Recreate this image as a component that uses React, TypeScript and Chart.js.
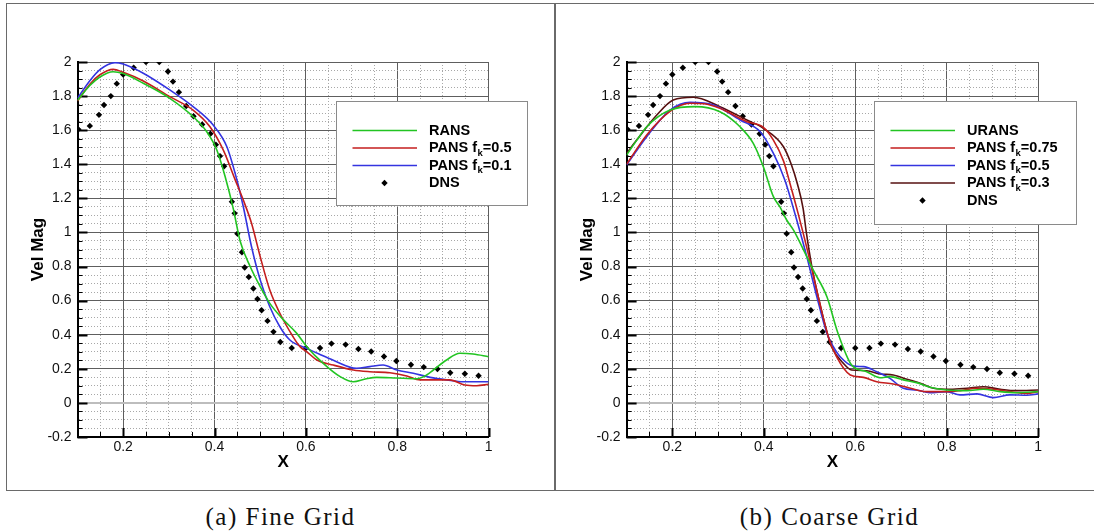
import React, { useEffect, useRef } from "react";
import { Chart, registerables } from "chart.js";

Chart.register(...registerables);

const SANS = '"Liberation Sans", Arial, Helvetica, sans-serif';
const GREEN = "#22c422";
const RED = "#c41e1e";
const BLUE = "#3434e0";
const BROWN = "#561010";

// ---------- DNS reference (same in both panels) ----------
const dnsX = [0.102, 0.127, 0.147, 0.158, 0.173, 0.186, 0.2, 0.223, 0.25, 0.279, 0.298, 0.309, 0.322, 0.338, 0.354, 0.373, 0.391, 0.403, 0.412, 0.421, 0.438, 0.444, 0.45, 0.46, 0.466, 0.475, 0.485, 0.494, 0.503, 0.516, 0.529, 0.544, 0.569, 0.6, 0.631, 0.656, 0.687, 0.715, 0.743, 0.771, 0.798, 0.83, 0.858, 0.888, 0.916, 0.948, 0.978];
const dnsY = [1.605, 1.625, 1.69, 1.748, 1.8, 1.873, 1.927, 1.966, 2.0, 2.0, 1.944, 1.885, 1.823, 1.742, 1.682, 1.633, 1.579, 1.515, 1.448, 1.388, 1.18, 1.112, 0.993, 0.884, 0.794, 0.739, 0.671, 0.61, 0.544, 0.481, 0.417, 0.357, 0.322, 0.322, 0.322, 0.348, 0.342, 0.316, 0.302, 0.272, 0.246, 0.224, 0.21, 0.199, 0.177, 0.171, 0.159];

// ---------- (a) Fine grid ----------
const fineRansX = [0.1, 0.127, 0.149, 0.178, 0.2, 0.244, 0.302, 0.353, 0.383, 0.405, 0.423, 0.441, 0.456, 0.478, 0.5, 0.521, 0.55, 0.58, 0.602, 0.638, 0.675, 0.704, 0.73, 0.755, 0.799, 0.843, 0.865, 0.879, 0.908, 0.937, 0.966, 1.0];
const fineRansY = [1.775, 1.862, 1.912, 1.943, 1.932, 1.875, 1.787, 1.68, 1.591, 1.484, 1.33, 1.14, 0.95, 0.8, 0.682, 0.584, 0.49, 0.408, 0.33, 0.232, 0.154, 0.124, 0.14, 0.15, 0.146, 0.142, 0.165, 0.193, 0.252, 0.291, 0.287, 0.271];

const finePans05X = [0.1, 0.127, 0.149, 0.178, 0.2, 0.244, 0.302, 0.353, 0.39, 0.419, 0.445, 0.463, 0.481, 0.5, 0.521, 0.543, 0.572, 0.587, 0.602, 0.624, 0.66, 0.704, 0.74, 0.784, 0.821, 0.85, 0.886, 0.915, 0.948, 0.974, 1.0];
const finePans05Y = [1.771, 1.87, 1.925, 1.957, 1.94, 1.889, 1.797, 1.718, 1.62, 1.484, 1.31, 1.19, 1.054, 0.858, 0.662, 0.526, 0.388, 0.33, 0.3, 0.252, 0.222, 0.193, 0.183, 0.177, 0.158, 0.135, 0.135, 0.135, 0.105, 0.101, 0.109];

const finePans01X = [0.1, 0.127, 0.149, 0.182, 0.2, 0.244, 0.302, 0.353, 0.397, 0.427, 0.449, 0.463, 0.481, 0.5, 0.521, 0.543, 0.565, 0.602, 0.63, 0.66, 0.711, 0.74, 0.769, 0.799, 0.835, 0.872, 0.908, 0.945, 1.0];
const finePans01Y = [1.787, 1.89, 1.955, 1.996, 1.988, 1.934, 1.836, 1.738, 1.63, 1.503, 1.308, 1.151, 0.916, 0.721, 0.564, 0.447, 0.369, 0.32, 0.285, 0.25, 0.203, 0.213, 0.222, 0.193, 0.174, 0.15, 0.135, 0.124, 0.124];

// ---------- (b) Coarse grid ----------
const coarseUransX = [0.1, 0.122, 0.144, 0.195, 0.25, 0.304, 0.348, 0.377, 0.399, 0.421, 0.435, 0.45, 0.465, 0.494, 0.508, 0.538, 0.562, 0.592, 0.625, 0.654, 0.676, 0.705, 0.734, 0.763, 0.8, 0.844, 0.88, 0.917, 0.953, 1.0];
const coarseUransY = [1.454, 1.54, 1.62, 1.718, 1.738, 1.708, 1.62, 1.523, 1.386, 1.21, 1.151, 1.073, 1.014, 0.858, 0.78, 0.623, 0.41, 0.222, 0.183, 0.148, 0.154, 0.135, 0.119, 0.092, 0.076, 0.072, 0.08, 0.066, 0.06, 0.066];

const coarsePans075X = [0.1, 0.144, 0.195, 0.239, 0.27, 0.304, 0.363, 0.399, 0.421, 0.443, 0.458, 0.475, 0.497, 0.519, 0.541, 0.559, 0.589, 0.618, 0.647, 0.683, 0.713, 0.756, 0.8, 0.829, 0.866, 0.902, 0.938, 0.975, 1.0];
const coarsePans075Y = [1.4, 1.572, 1.71, 1.758, 1.755, 1.728, 1.65, 1.617, 1.542, 1.42, 1.28, 1.112, 0.878, 0.623, 0.388, 0.271, 0.164, 0.15, 0.124, 0.111, 0.092, 0.066, 0.066, 0.072, 0.086, 0.08, 0.066, 0.056, 0.066];

const coarsePans05X = [0.1, 0.144, 0.195, 0.239, 0.29, 0.348, 0.392, 0.421, 0.446, 0.472, 0.494, 0.516, 0.538, 0.552, 0.567, 0.596, 0.618, 0.647, 0.676, 0.705, 0.734, 0.763, 0.8, 0.829, 0.866, 0.902, 0.938, 0.975, 1.0];
const coarsePans05Y = [1.396, 1.562, 1.718, 1.763, 1.748, 1.66, 1.591, 1.464, 1.308, 1.073, 0.858, 0.623, 0.408, 0.33, 0.271, 0.216, 0.213, 0.183, 0.144, 0.086, 0.076, 0.06, 0.066, 0.047, 0.053, 0.031, 0.047, 0.045, 0.053];

const coarsePans03X = [0.1, 0.122, 0.166, 0.202, 0.246, 0.304, 0.363, 0.399, 0.443, 0.46, 0.474, 0.486, 0.493, 0.505, 0.519, 0.541, 0.548, 0.574, 0.592, 0.625, 0.654, 0.683, 0.713, 0.742, 0.771, 0.808, 0.844, 0.88, 0.917, 0.953, 1.0];
const coarsePans03Y = [1.464, 1.542, 1.689, 1.777, 1.793, 1.738, 1.66, 1.611, 1.503, 1.4, 1.28, 1.14, 1.0, 0.8, 0.623, 0.388, 0.33, 0.232, 0.193, 0.189, 0.17, 0.164, 0.139, 0.115, 0.086, 0.08, 0.086, 0.095, 0.08, 0.072, 0.076];

// ---------- axes ----------
const X_MIN = 0.1;
const X_MAX = 1;
const Y_MIN = -0.2;
const Y_MAX = 2;
const MINOR_STEP = 0.05;
const xTickValues = [0.2, 0.4, 0.6, 0.8, 1];
const xTickLabels = ["0.2", "0.4", "0.6", "0.8", "1"];
const yTickValues = [-0.2, 0, 0.2, 0.4, 0.6, 0.8, 1, 1.2, 1.4, 1.6, 1.8, 2];
const yTickLabels = ["-0.2", "0", "0.2", "0.4", "0.6", "0.8", "1", "1.2", "1.4", "1.6", "1.8", "2"];

type Series = { main: string; sub?: string; rest?: string; xs: number[]; ys: number[]; color: string };

const fineSeries: Series[] = [
  { main: "RANS", xs: fineRansX, ys: fineRansY, color: GREEN },
  { main: "PANS f", sub: "k", rest: "=0.5", xs: finePans05X, ys: finePans05Y, color: RED },
  { main: "PANS f", sub: "k", rest: "=0.1", xs: finePans01X, ys: finePans01Y, color: BLUE },
];
const coarseSeries: Series[] = [
  { main: "URANS", xs: coarseUransX, ys: coarseUransY, color: GREEN },
  { main: "PANS f", sub: "k", rest: "=0.75", xs: coarsePans075X, ys: coarsePans075Y, color: RED },
  { main: "PANS f", sub: "k", rest: "=0.5", xs: coarsePans05X, ys: coarsePans05Y, color: BLUE },
  { main: "PANS f", sub: "k", rest: "=0.3", xs: coarsePans03X, ys: coarsePans03Y, color: BROWN },
];

const isMajor = (v: number) => Math.abs(v * 5 - Math.round(v * 5)) < 1e-6;
const gridValues = (a: number, b: number) => {
  const out: number[] = [];
  for (let k = Math.round(a / MINOR_STEP); k <= Math.round(b / MINOR_STEP); k++) out.push(+(k * MINOR_STEP).toFixed(2));
  return out;
};
const labelFor = (vals: number[], labels: string[], v: number) => {
  const i = vals.findIndex((t) => Math.abs(t - v) < 1e-6);
  return i >= 0 ? labels[i] : "";
};

const MAJOR_C = "#5e5e5e";
const MINOR_C = "#a8a8a8";
const ZERO_C = "#bdbdbd";

function gridColor(ctx: any) {
  const v = ctx.tick ? ctx.tick.value : undefined;
  if (v === undefined) return MAJOR_C;
  if (Math.abs(v) < 1e-9) return ZERO_C;
  return isMajor(v) ? MAJOR_C : MINOR_C;
}
function gridWidth(ctx: any) {
  const v = ctx.tick ? ctx.tick.value : undefined;
  if (v !== undefined && Math.abs(v) < 1e-9) return 2;
  return 1;
}
function gridDash(ctx: any) {
  const v = ctx.tick ? ctx.tick.value : undefined;
  if (v === undefined || isMajor(v)) return [];
  return [1, 2];
}

const innerTicks = {
  id: "innerTicks",
  beforeDatasetsDraw(chart: any) {
    const { ctx, chartArea } = chart;
    const xs = chart.scales.x;
    const ys = chart.scales.y;
    ctx.save();
    ctx.strokeStyle = "#000";
    xs.ticks.forEach((t: any) => {
      const p = Math.round(xs.getPixelForValue(t.value)) + 0.5;
      const major = isMajor(t.value);
      ctx.lineWidth = major ? 2 : 1;
      ctx.beginPath();
      ctx.moveTo(p, chartArea.bottom);
      ctx.lineTo(p, chartArea.bottom - (major ? 9 : 5));
      ctx.stroke();
    });
    ys.ticks.forEach((t: any) => {
      const p = Math.round(ys.getPixelForValue(t.value)) + 0.5;
      const major = isMajor(t.value);
      ctx.lineWidth = major ? 2 : 1;
      ctx.beginPath();
      ctx.moveTo(chartArea.left, p);
      ctx.lineTo(chartArea.left + (major ? 10 : 5), p);
      ctx.stroke();
    });
    ctx.restore();
  },
};

function makeLegend(series: Series[], dx: number, dy: number, w: number, h: number) {
  return {
    id: "boxLegend",
    afterDatasetsDraw(chart: any) {
      const { ctx, chartArea } = chart;
      const x0 = Math.round(chartArea.left + dx);
      const y0 = Math.round(chartArea.top + dy);
      ctx.save();
      ctx.fillStyle = "#fff";
      ctx.fillRect(x0, y0, w, h);
      ctx.strokeStyle = "#8a8a8a";
      ctx.lineWidth = 1;
      ctx.strokeRect(x0 + 0.5, y0 + 0.5, w, h);
      const entries: any[] = [...series.map((s) => ({ ...s, kind: "line" })), { main: "DNS", kind: "dot" }];
      const mainFont = `bold 14.5px ${SANS}`;
      const subFont = `bold 9.5px ${SANS}`;
      entries.forEach((e, i) => {
        const y = y0 + 29.5 + i * 17.5;
        if (e.kind === "line") {
          ctx.strokeStyle = e.color;
          ctx.lineWidth = 1.6;
          ctx.beginPath();
          ctx.moveTo(x0 + 16.5, y);
          ctx.lineTo(x0 + 81, y);
          ctx.stroke();
        } else {
          const cx = x0 + 48.5;
          ctx.fillStyle = "#000";
          ctx.beginPath();
          ctx.moveTo(cx, y - 3.2);
          ctx.lineTo(cx + 3.2, y);
          ctx.lineTo(cx, y + 3.2);
          ctx.lineTo(cx - 3.2, y);
          ctx.closePath();
          ctx.fill();
        }
        ctx.fillStyle = "#000";
        ctx.textAlign = "left";
        ctx.textBaseline = "middle";
        ctx.font = mainFont;
        let tx = x0 + 93;
        ctx.fillText(e.main, tx, y);
        tx += ctx.measureText(e.main).width;
        if (e.sub) {
          ctx.font = subFont;
          ctx.fillText(e.sub, tx + 0.5, y + 5);
          tx += ctx.measureText(e.sub).width + 0.5;
          ctx.font = mainFont;
          ctx.fillText(e.rest, tx, y);
        }
      });
      ctx.restore();
    },
  };
}

type PanelProps = {
  series: Series[];
  left: number;
  width: number;
  height: number;
  padLeft: number;
  padRight: number;
  yWidth: number;
  legend: [number, number, number, number];
};

function Panel({ series, left, width, height, padLeft, padRight, yWidth, legend }: PanelProps) {
  const ref = useRef<HTMLCanvasElement | null>(null);
  useEffect(() => {
    if (!ref.current) return;
    const datasets: any[] = series.map((s) => ({
      label: s.main + (s.sub || "") + (s.rest || ""),
      data: s.xs.map((x, i) => ({ x, y: s.ys[i] })),
      showLine: true,
      borderColor: s.color,
      backgroundColor: s.color,
      borderWidth: 1.6,
      pointRadius: 0,
      cubicInterpolationMode: "monotone",
    }));
    datasets.push({
      label: "DNS",
      data: dnsX.map((x, i) => ({ x, y: dnsY[i] })),
      showLine: false,
      pointStyle: "rectRot",
      pointRadius: 3.2,
      borderWidth: 0,
      backgroundColor: "#000",
      borderColor: "#000",
    });
    const tickFont = { family: SANS, size: 14 };
    const titleFont = { family: SANS, size: 17, weight: "bold" as const };
    const chart = new Chart(ref.current, {
      type: "scatter",
      data: { datasets },
      plugins: [innerTicks, makeLegend(series, legend[0], legend[1], legend[2], legend[3])],
      options: {
        responsive: false,
        animation: false,
        layout: { padding: { left: padLeft, right: padRight, top: 62, bottom: 17 } },
        plugins: { legend: { display: false }, tooltip: { enabled: false } },
        scales: {
          x: {
            type: "linear",
            min: X_MIN,
            max: X_MAX,
            afterBuildTicks: (s: any) => {
              s.ticks = gridValues(X_MIN, X_MAX).map((v) => ({ value: v }));
            },
            afterFit: (s: any) => {
              s.height = 36;
            },
            ticks: {
              autoSkip: false,
              maxRotation: 0,
              padding: 2,
              color: "#111",
              font: tickFont,
              callback: (v: any) => labelFor(xTickValues, xTickLabels, Number(v)),
            },
            grid: { drawTicks: false, color: gridColor, lineWidth: gridWidth },
            border: { display: true, color: "#000", width: 2, dash: gridDash },
            title: { display: true, text: "X", color: "#000", font: titleFont, padding: { top: 0, bottom: 0 } },
          },
          y: {
            type: "linear",
            min: Y_MIN,
            max: Y_MAX,
            afterBuildTicks: (s: any) => {
              s.ticks = gridValues(Y_MIN, Y_MAX).map((v) => ({ value: v }));
            },
            afterFit: (s: any) => {
              s.width = yWidth;
            },
            ticks: {
              autoSkip: false,
              padding: 6,
              color: "#111",
              font: tickFont,
              callback: (v: any) => labelFor(yTickValues, yTickLabels, Number(v)),
            },
            grid: { drawTicks: false, color: gridColor, lineWidth: gridWidth },
            border: { display: true, color: "#000", width: 2, dash: gridDash },
            title: { display: true, text: "Vel Mag", color: "#000", font: titleFont, padding: { top: 8, bottom: 0 } },
          },
        },
      } as any,
    });
    return () => chart.destroy();
  }, []);
  return (
    <canvas
      ref={ref}
      width={width}
      height={height}
      style={{ position: "absolute", left, top: 0, width, height }}
    />
  );
}

const captionStyle: React.CSSProperties = {
  position: "absolute",
  top: 502,
  width: 340,
  height: 30,
  lineHeight: "30px",
  textAlign: "center",
  fontFamily: '"Liberation Serif", "Times New Roman", serif',
  fontSize: 25,
  letterSpacing: 1.5,
  color: "#111",
  whiteSpace: "nowrap",
};

export default function App() {
  return (
    <div style={{ position: "fixed", left: 0, top: 0, width: 1094, height: 531, background: "#fff", overflow: "hidden" }}>
      <div
        style={{
          position: "absolute",
          left: 6,
          top: 3,
          width: 1100,
          height: 488,
          border: "1px solid #6a6a6a",
          boxSizing: "border-box",
        }}
      />
      <div style={{ position: "absolute", left: 554, top: 3, width: 2, height: 488, background: "#6a6a6a" }} />
      <Panel
        series={fineSeries}
        left={0}
        width={555}
        height={490}
        padLeft={20}
        padRight={66.4}
        yWidth={57.5}
        legend={[258.2, 38.6, 191, 104]}
      />
      <Panel
        series={coarseSeries}
        left={555}
        width={539}
        height={490}
        padLeft={14}
        padRight={55.8}
        yWidth={57.6}
        legend={[247.7, 38.6, 202, 123]}
      />
      <div style={{ ...captionStyle, left: 280.5 - 170 }}>(a) Fine Grid</div>
      <div style={{ ...captionStyle, left: 829.5 - 170 }}>(b) Coarse Grid</div>
    </div>
  );
}
